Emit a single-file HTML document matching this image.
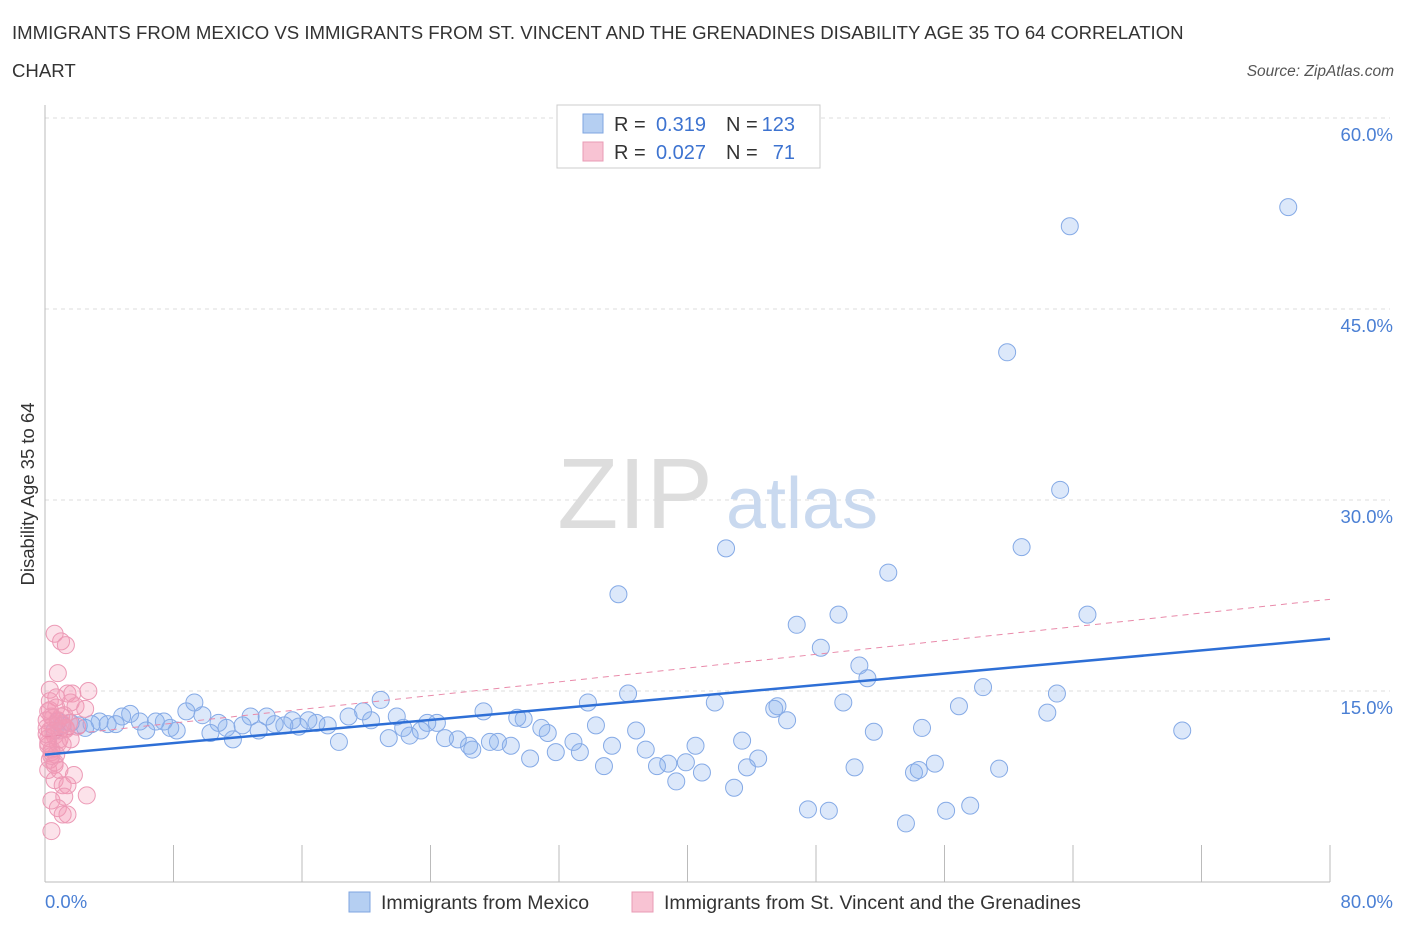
<!DOCTYPE html>
<html><head><meta charset="utf-8"><style>
body{margin:0;background:#fff;font-family:"Liberation Sans",sans-serif;}
svg text{font-family:"Liberation Sans",sans-serif;}
</style></head><body>
<svg id="chart" width="1406" height="930" xmlns="http://www.w3.org/2000/svg">
<text x="12" y="39" font-size="18.6" fill="#333">IMMIGRANTS FROM MEXICO VS IMMIGRANTS FROM ST. VINCENT AND THE GRENADINES DISABILITY AGE 35 TO 64 CORRELATION</text>
<text x="12" y="77" font-size="18.6" fill="#333">CHART</text>
<text x="1394" y="76" font-size="15.5" fill="#555" font-style="italic" text-anchor="end">Source: ZipAtlas.com</text>
<g id="grid"></g>
<text x="635" y="528" font-size="100" fill="#ddd" font-family="Liberation Serif" text-anchor="middle">ZIP</text>
<text x="802" y="528" font-size="72" fill="#c9d9ef" text-anchor="middle">atlas</text>
<line x1="45" y1="105" x2="45" y2="882" stroke="#bbb"/>
<line x1="45" y1="882" x2="1330" y2="882" stroke="#bbb"/>
<g id="xticks"></g>
<text transform="translate(34,494) rotate(-90)" font-size="18.5" fill="#333" text-anchor="middle">Disability Age 35 to 64</text>
<text x="45" y="908" font-size="18.5" fill="#4a7fd4">0.0%</text>
<text x="1393" y="908" font-size="18.5" fill="#4a7fd4" text-anchor="end">80.0%</text>
<g id="pts"></g>
<g id="trends"></g>
<g>
<rect x="557" y="105" width="263" height="63" fill="#fff" stroke="#ccc"/>
<rect x="583" y="114" width="20" height="19" fill="#b5cff2" stroke="#7fa6e0"/>
<rect x="583" y="142" width="20" height="19" fill="#f8c3d3" stroke="#e99bb5"/>
<text x="614" y="131" font-size="20" fill="#333">R = </text>
<text x="706" y="131" font-size="20" fill="#3d73d0" text-anchor="end">0.319</text>
<text x="726" y="131" font-size="20" fill="#333">N = </text>
<text x="795" y="131" font-size="20" fill="#3d73d0" text-anchor="end">123</text>
<text x="614" y="159" font-size="20" fill="#333">R = </text>
<text x="706" y="159" font-size="20" fill="#3d73d0" text-anchor="end">0.027</text>
<text x="726" y="159" font-size="20" fill="#333">N = </text>
<text x="795" y="159" font-size="20" fill="#3d73d0" text-anchor="end">71</text>
</g>
<g>
<rect x="349" y="892" width="21" height="20" fill="#b5cff2" stroke="#7fa6e0"/>
<text x="381" y="909" font-size="19.5" fill="#333">Immigrants from Mexico</text>
<rect x="632" y="892" width="21" height="20" fill="#f8c3d3" stroke="#e99bb5"/>
<text x="664" y="909" font-size="19.5" fill="#333">Immigrants from St. Vincent and the Grenadines</text>
</g>
</svg>
<script>
const yTicks=[15,30,45,60];
const yTickLabels=["15.0%","30.0%","45.0%","60.0%"];
const xTicks=[0,8,16,24,32,40,48,56,64,72,80];
const blueX=[77.4,63.8,59.9,63.2,42.4,60.8,35.7,52.5,46.8,49.4,64.9,48.3,50.7,51.2,58.4,63.0,36.3,41.7,33.8,45.6,45.4,49.7,56.9,62.4,46.2,54.6,51.6,70.8,36.8,34.3,43.4,40.5,35.3,37.4,44.4,55.4,50.4,43.7,38.8,38.1,39.9,40.9,54.1,54.4,59.4,39.3,42.9,47.5,48.8,56.1,57.6,53.6,34.8,33.3,32.9,31.8,31.3,30.9,29.8,29.4,29.0,30.2,27.3,28.2,27.7,26.4,26.6,25.7,24.9,24.4,23.8,23.4,22.7,22.3,21.9,21.4,20.9,20.3,19.8,18.9,18.3,17.6,16.9,16.4,15.8,15.4,14.9,14.3,13.8,13.3,12.8,12.3,11.7,11.3,10.8,10.3,9.8,9.3,8.8,8.2,7.8,7.4,6.9,6.3,5.9,5.3,4.8,4.4,3.9,3.4,2.9,2.5,2.1,1.6,1.1,0.8,0.6];
const blueY=[53.0,51.5,41.6,30.8,26.2,26.3,22.6,24.3,20.2,21.0,21.0,18.4,17.0,16.0,15.3,14.8,14.8,14.1,14.1,13.8,13.6,14.1,13.8,13.3,12.7,12.1,11.8,11.9,11.9,12.3,11.1,10.7,10.7,10.4,9.7,9.3,9.0,9.0,9.3,9.1,9.4,8.6,8.6,8.8,8.9,7.9,7.4,5.7,5.6,5.6,6.0,4.6,9.1,10.2,11.0,10.2,11.7,12.1,12.8,12.9,10.7,9.7,13.4,11.0,11.0,10.7,10.4,11.2,11.3,12.5,12.5,11.9,11.5,12.1,13.0,11.3,14.3,12.7,13.4,13.0,11.0,12.3,12.5,12.7,12.2,12.7,12.3,12.4,13.0,11.9,13.0,12.3,11.2,12.1,12.5,11.7,13.1,14.1,13.4,11.9,12.1,12.6,12.6,11.9,12.6,13.2,13.0,12.4,12.4,12.6,12.4,12.1,12.3,12.5,12.3,12.6,11.9];
const pinkX=[0.6,1.0,1.3,0.8,0.3,0.7,1.4,1.7,2.7,1.6,1.9,2.5,0.2,0.4,0.8,1.1,1.3,0.3,0.6,0.9,1.1,0.2,0.4,0.7,0.3,0.6,0.2,1.8,0.6,1.1,1.4,0.4,1.2,2.6,0.8,1.1,1.4,0.4,0.1,0.3,0.5,0.8,0.9,1.2,1.6,0.2,0.4,0.6,0.9,0.1,0.3,0.7,1.0,1.3,0.2,0.5,1.5,2.0,0.4,0.1];
const pinkY=[19.5,18.9,18.6,16.4,15.1,14.5,14.8,14.8,15.0,14.1,13.8,13.6,13.4,13.0,12.7,12.4,12.1,11.9,11.5,11.2,10.8,10.7,10.4,10.0,9.6,9.2,8.8,8.4,8.0,7.6,7.6,6.4,6.7,6.8,5.8,5.3,5.3,4.0,12.7,14.2,12.3,10.9,11.9,13.1,11.2,11.3,10.2,9.4,8.8,12.1,13.5,13.7,13.0,12.0,10.9,12.9,12.5,12.2,9.9,11.6];
const blueTrend=[10.0,19.1];
const pinkTrend=[11.4,22.2];
const X0=45,X1=1330,Y0=882,YS=(882-118)/60;
const sx=v=>X0+(X1-X0)*v/80, sy=v=>Y0-v*YS;
const NS="http://www.w3.org/2000/svg";
function mk(tag,attrs,parent){const e=document.createElementNS(NS,tag);for(const k in attrs)e.setAttribute(k,attrs[k]);parent.appendChild(e);return e;}
const grid=document.getElementById('grid');
yTicks.forEach((t,i)=>{
 const l=mk('line',{x1:45,x2:1390,y1:sy(t),y2:sy(t),stroke:'#ddd','stroke-dasharray':'4,4'},grid);
 
 
 const tx=mk('text',{x:1393,y:sy(t)+23,'font-size':18.5,fill:'#4a7fd4','text-anchor':'end'},grid);
 tx.textContent=yTickLabels[i];
 
 
});
mk('line',{x1:45,x2:1390,y1:118,y2:118,stroke:'#ddd','stroke-dasharray':'4,4'},grid);
const xt=document.getElementById('xticks');
xTicks.forEach(t=>{
 const l=mk('line',{x1:sx(t),x2:sx(t),y1:845,y2:882,stroke:'#bbb'},xt);
 
 
});
const pts=document.getElementById('pts');
blueX.forEach((x,i)=>{
 const c=mk('circle',{cx:sx(x),cy:sy(blueY[i]),r:8.5,fill:'rgba(140,180,240,0.3)',stroke:'#85aae6','stroke-width':1},pts);
 
 
});
pinkX.forEach((x,i)=>{
 const c=mk('circle',{cx:sx(x),cy:sy(pinkY[i]),r:8.5,fill:'rgba(244,150,180,0.28)',stroke:'#ec9ab6','stroke-width':1},pts);
 
 
});
const tr=document.getElementById('trends');
const pl=mk('line',{x1:sx(0),y1:sy(pinkTrend[0]),x2:sx(80),y2:sy(pinkTrend[1]),stroke:'#e98aaa','stroke-width':1,'stroke-dasharray':'6,5'},tr);


const bl=mk('line',{x1:sx(0),y1:sy(blueTrend[0]),x2:sx(80),y2:sy(blueTrend[1]),stroke:'#2e6fd6','stroke-width':2.5},tr);


</script>
</body></html>
